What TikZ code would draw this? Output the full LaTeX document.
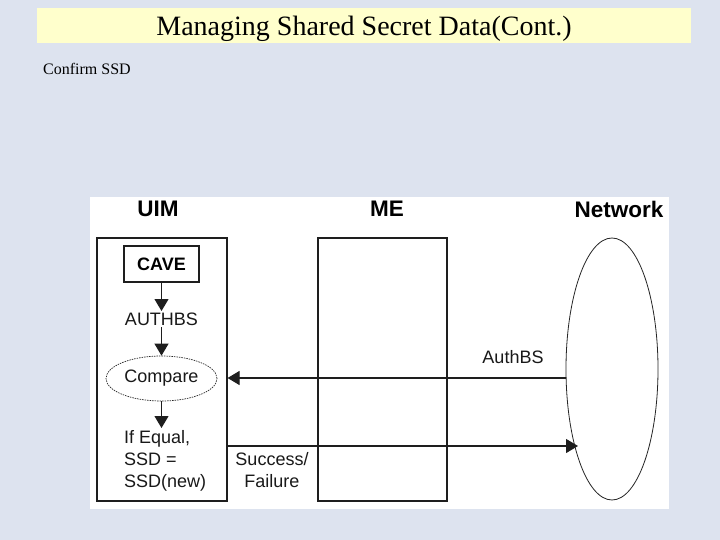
\documentclass[tikz,border=0pt]{standalone}
\usepackage{fontspec}
\setmainfont{Liberation Serif}
\newfontfamily\arial{Liberation Sans}
\usetikzlibrary{arrows.meta,shapes.geometric}
\definecolor{bgc}{RGB}{221,227,239}
\definecolor{titlec}{RGB}{255,255,204}
\definecolor{linec}{RGB}{30,30,30}
\tikzset{
  lbl/.style={font=\arial\fontsize{22.5}{26}\selectfont\bfseries, inner sep=0pt, anchor=base},
  txt/.style={font=\arial\fontsize{18}{22}\selectfont, inner sep=0pt, text=black!90},
  box/.style={draw=linec, line width=1.1pt},
  arr/.style={draw=linec, line width=1.1pt, -{Triangle[length=12pt,width=14pt]}},
}
\begin{document}
\begin{tikzpicture}[x=1pt,y=-1pt]
\useasboundingbox (0,0) rectangle (720,540);
\fill[bgc] (0,0) rectangle (720,540);
\fill[titlec] (37,8) rectangle (691,43);
\node[font=\fontsize{28}{32}\selectfont, inner sep=0pt, anchor=base] (title) at (364,36) {Managing Shared Secret Data(Cont.)};
\node[font=\fontsize{16}{19}\selectfont, inner sep=0pt, anchor=base west] (sub) at (43,75) {Confirm SSD};
\fill[white] (90,197) rectangle (669,509);
% labels
\node[lbl] (uiml) at (158,217) {UIM};
\node[lbl] (mel) at (387,216) {ME};
\node[lbl] (netl) at (619,218) {Network};
% boxes
\node[box, minimum width=130pt, minimum height=263pt, inner sep=0pt] (uim) at (162,369.5) {};
\node[box, minimum width=129pt, minimum height=263pt, inner sep=0pt] (me) at (382.5,369.5) {};
\node[box, draw=black!85, line width=0.8pt, ellipse, minimum width=92pt, minimum height=262pt, inner sep=0pt] (net) at (612,369) {};
% UIM internals
\node[box, minimum width=75pt, minimum height=36pt, inner sep=0pt, font=\arial\fontsize{18}{22}\selectfont\bfseries] (cave) at (161.5,264) {CAVE};
\node[txt] (authbs) at (161.5,319) {AUTHBS};
\node[txt, draw=black!85, dashed, dash pattern=on 1.5pt off 1pt, line width=0.7pt, ellipse, minimum width=111pt, minimum height=45pt, inner sep=0pt] (cmp) at (161.5,378.5) {Compare};
\node[txt, align=left, anchor=north west, font=\arial\fontsize{18}{22}\selectfont] (ifeq) at (124,430.5) {If Equal,\\SSD =\\SSD(new)};
\draw[arr] (cave.south) -- (161.5,311);
\draw[arr] (161.5,327) -- (cmp.north);
\draw[arr] (cmp.south) -- (161.5,428);
% messages
\coordinate (a1) at (566,378);
\coordinate (a2) at (227,378);
\draw[arr] (net.west |- a1) -- (uim.east |- a2);
\node[txt] (authlbl) at (513,357) {AuthBS};
\coordinate (b1) at (227,446);
\coordinate (b2) at (578,446);
\draw[arr] (uim.east |- b1) -- (b2);
\node[txt, align=center, anchor=north] (sf) at (272,452) {Success/\\Failure};
\end{tikzpicture}
\end{document}
